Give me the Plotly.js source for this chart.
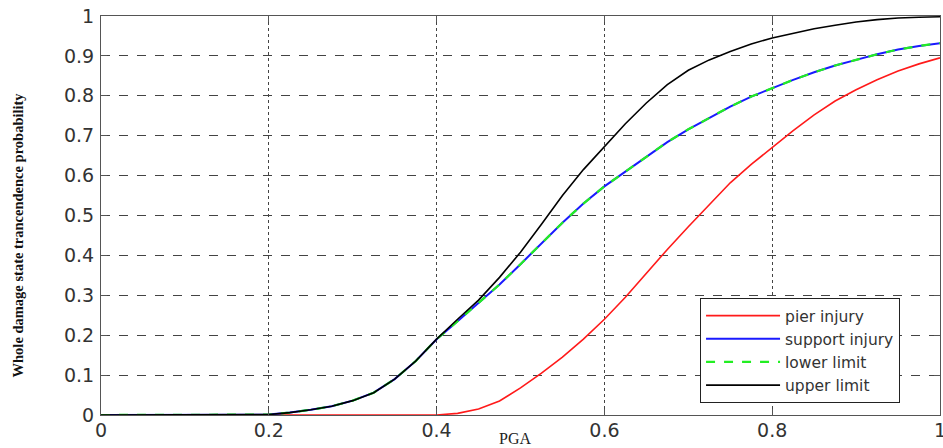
<!DOCTYPE html>
<html>
<head>
<meta charset="utf-8">
<script src="https://cdn.plot.ly/plotly-3.0.1.min.js"></script>
<style>html,body{margin:0;padding:0;background:#fff;}#chart{width:943px;height:448px;}</style>
</head>
<body>
<div id="chart"></div>
<script>
// PGA sample points
const pga = [0, 0.025, 0.05, 0.075, 0.1, 0.125, 0.15, 0.175, 0.2, 0.225, 0.25, 0.275, 0.3, 0.325, 0.35, 0.375, 0.4,
  0.425, 0.45, 0.475, 0.5, 0.525, 0.55, 0.575, 0.6, 0.625, 0.65, 0.675, 0.7, 0.725, 0.75, 0.775, 0.8,
  0.825, 0.85, 0.875, 0.9, 0.925, 0.95, 0.975, 1.0];

const pierInjury = [null, 0, 0, 0, 0, 0, 0, 0, 0, 0, 0, 0, 0, 0, 0, 0, 0,
  0.004, 0.015, 0.035, 0.068, 0.105, 0.145, 0.19, 0.24, 0.295, 0.355, 0.415, 0.472, 0.528, 0.582, 0.628, 0.67,
  0.713, 0.752, 0.787, 0.815, 0.84, 0.862, 0.88, 0.895];

const supportInjury = [0, 0, 0, 0, 0, 0, 0, 0, 0.001, 0.006, 0.013, 0.022, 0.036, 0.056, 0.09, 0.135, 0.19,
  0.235, 0.28, 0.327, 0.378, 0.43, 0.482, 0.53, 0.573, 0.61, 0.648, 0.684, 0.716, 0.745, 0.773, 0.798, 0.82,
  0.84, 0.859, 0.876, 0.89, 0.904, 0.916, 0.925, 0.932];

const lowerLimit = [0, 0, 0, 0, 0, 0, 0, 0, 0.001, 0.006, 0.013, 0.022, 0.036, 0.056, 0.09, 0.135, 0.19,
  0.235, 0.28, 0.327, 0.378, 0.43, 0.482, 0.53, 0.573, 0.61, 0.648, 0.684, 0.716, 0.745, 0.773, 0.798, 0.82,
  0.84, 0.859, 0.876, 0.89, 0.904, 0.916, 0.925, 0.932];

const upperLimit = [0, 0, 0, 0, 0, 0, 0, 0, 0.001, 0.006, 0.013, 0.022, 0.036, 0.056, 0.09, 0.135, 0.19,
  0.24, 0.288, 0.345, 0.408, 0.478, 0.55, 0.615, 0.672, 0.73, 0.782, 0.828, 0.864, 0.89, 0.911, 0.93, 0.945,
  0.957, 0.968, 0.977, 0.985, 0.991, 0.995, 0.997, 0.998];

const xTicks = [0, 0.2, 0.4, 0.6, 0.8, 1];
const xTickLabels = ['0', '0.2', '0.4', '0.6', '0.8', '1'];
const yTicks = [0, 0.1, 0.2, 0.3, 0.4, 0.5, 0.6, 0.7, 0.8, 0.9, 1];
const yTickLabels = ['0', '0.1', '0.2', '0.3', '0.4', '0.5', '0.6', '0.7', '0.8', '0.9', '1'];

const seriesNames = ['pier injury', 'support injury', 'lower limit', 'upper limit'];
const xTitle = 'PGA';
const yTitle = 'Whole damage state trancendence probability';

const traces = [
  {x: pga, y: pierInjury, name: seriesNames[0], mode: 'lines', line: {color: '#ff1a1a', width: 1.6}},
  {x: pga, y: supportInjury, name: seriesNames[1], mode: 'lines', line: {color: '#1a1aff', width: 2}},
  {x: pga, y: lowerLimit, name: seriesNames[2], mode: 'lines', line: {color: '#22ee22', width: 2.2, dash: 'dash'}},
  {x: pga, y: upperLimit, name: seriesNames[3], mode: 'lines', line: {color: '#000000', width: 1.6}}
];

const tickFont = {family: 'DejaVu Sans', size: 19, color: '#333'};

const layout = {
  width: 943, height: 448,
  margin: {l: 101, r: 3, t: 16, b: 33},
  paper_bgcolor: '#fff', plot_bgcolor: '#fff',
  showlegend: true,
  legend: {
    x: 0.714, y: 0.293, xanchor: 'left', yanchor: 'top',
    bgcolor: '#fff', bordercolor: '#222', borderwidth: 1,
    font: {family: 'DejaVu Sans', size: 15.5, color: '#333'},
    itemwidth: 74
  },
  xaxis: {
    range: [0, 1], tickvals: xTicks, ticktext: xTickLabels,
    showgrid: true, gridcolor: '#444', griddash: 'dot', gridwidth: 1,
    showline: true, linecolor: '#555', linewidth: 1, mirror: 'ticks',
    ticks: 'inside', ticklen: 6, tickcolor: '#555',
    tickfont: tickFont, ticklabelstandoff: -2, ticklabeloverflow: 'allow',
    zeroline: false, fixedrange: true
  },
  yaxis: {
    range: [0, 1], tickvals: yTicks, ticktext: yTickLabels,
    showgrid: true, gridcolor: '#444', griddash: 'dash', gridwidth: 1,
    showline: true, linecolor: '#555', linewidth: 1, mirror: 'ticks',
    ticks: 'inside', ticklen: 6, tickcolor: '#555',
    tickfont: tickFont, ticklabelstandoff: 2, ticklabeloverflow: 'allow',
    zeroline: false, fixedrange: true
  },
  annotations: [
    {text: xTitle, xref: 'paper', yref: 'paper', x: 0.494, y: 0, xanchor: 'center', yanchor: 'middle', yshift: -23,
     showarrow: false, font: {family: 'Liberation Serif', size: 16, color: '#222'}},
    {text: yTitle, xref: 'paper', yref: 'paper', x: 0, y: 0.45, xanchor: 'center', yanchor: 'middle', xshift: -83,
     textangle: -90, showarrow: false,
     font: {family: 'Liberation Serif', size: 14.5, color: '#111', weight: 'bold'}}
  ]
};

Plotly.newPlot('chart', traces, layout, {displayModeBar: false, staticPlot: true});
</script>
</body>
</html>
